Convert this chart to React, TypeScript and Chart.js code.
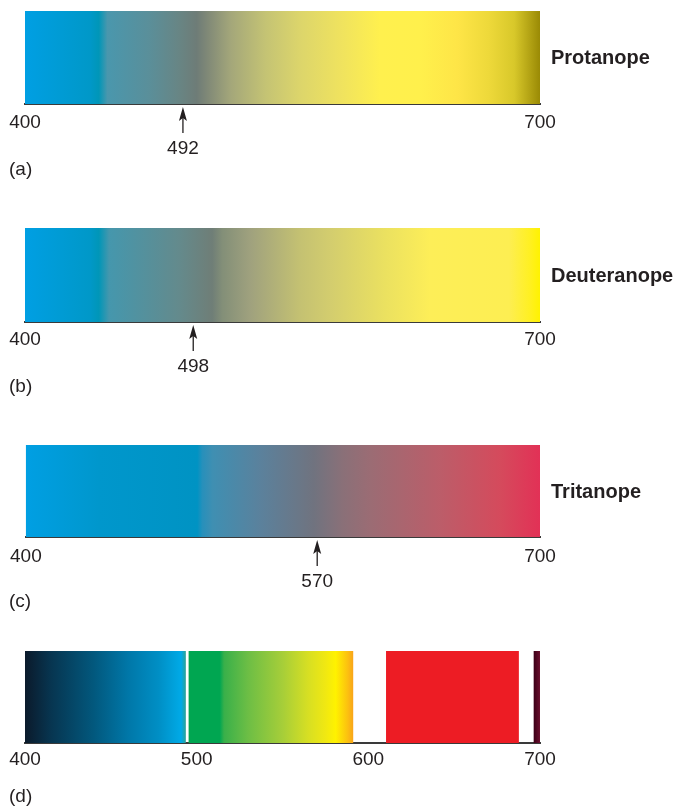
import React, { useEffect, useRef } from 'react';
import { Chart, registerables } from 'chart.js';

Chart.register(...registerables);

// ---------- data ----------
const AXIS_MIN = 400;
const AXIS_MAX = 700;
const TICKS_ABC = [400, 700];
const TICKS_D = [400, 500, 600, 700];

const PANEL_LETTERS = ['(a)', '(b)', '(c)', '(d)'];
const DEFECT_NAMES = ['Protanope', 'Deuteranope', 'Tritanope'];
const NEUTRAL_POINTS = [492, 498, 570];

// Perceived spectrum, wavelength (nm) -> colour
const PROT_WL = [400, 438, 443, 448, 472, 490, 500, 506, 520, 540, 560, 585, 607, 630, 652, 670, 685, 700];
const PROT_COL = ['#009fe3', '#0098c8', '#0096b8', '#4a97ad', '#5a8f9a', '#688584', '#6e7c77', '#7f8877', '#a4a77a', '#c4c374', '#dcd56b', '#f0e35e', '#fff04e', '#fff04c', '#fee547', '#eed93a', '#d8c82a', '#9a8a05'];

const DEUT_WL = [400, 438, 443, 449, 490, 509, 515, 531, 560, 578, 610, 636, 682, 694, 700];
const DEUT_COL = ['#009fe3', '#0098c8', '#0096b8', '#4597ad', '#648a8c', '#6f7e77', '#838f78', '#9fa17e', '#c4c172', '#d3cd6e', '#ebe160', '#fdee58', '#fdee52', '#fff022', '#fff200'];

const TRIT_WL = [400, 443, 500, 503, 509, 537, 568, 585, 601, 642, 677, 700];
const TRIT_COL = ['#009fe3', '#0097cc', '#0093c3', '#2790bb', '#3f8fb2', '#5b819c', '#70737f', '#8a7078', '#9b6c74', '#bc5d69', '#d54a5c', '#e23156'];

// Normal spectrum bands (panel d)
const D_START = [400, 495.5, 610.5, 696.5];
const D_END = [493.5, 591, 687.5, 700];
const D_BLUE_WL = [400, 415, 440, 460, 478, 488, 491, 493.5];
const D_BLUE_COL = ['#0b1a2b', '#073550', '#02587d', '#0077a8', '#008fc5', '#00a4df', '#00aae8', '#2aa39a'];
const D_GREEN_WL = [495.5, 513.5, 516, 530, 550, 565, 575, 581, 588, 591];
const D_GREEN_COL = ['#00a651', '#00a651', '#39b04a', '#6dbe45', '#a6ce39', '#d7df23', '#f0e812', '#fff200', '#fcc010', '#f9a61a'];
const D_RED_COL = '#ed1c24';
const D_PURPLE_WL = [696.5, 700];
const D_PURPLE_COL = ['#3d0017', '#6b0f2e'];

// ---------- layout (styles) ----------
const FONT = '"Liberation Sans", Arial, Helvetica, sans-serif';
const TEXT = '#231f20';
const AXIS_BOX = 30;
const PAD_LEFT = 25;
const PAD_RIGHT = 142;
const LAYOUT = [
  { top: 0, height: 200, areaTop: 11, areaBottom: 104, tickPad: 9, letterDy: 66 },
  { top: 200, height: 220, areaTop: 28, areaBottom: 122, tickPad: 8, letterDy: 65 },
  { top: 420, height: 210, areaTop: 25, areaBottom: 117, tickPad: 10, letterDy: 65 },
  { top: 630, height: 181, areaTop: 21, areaBottom: 113, tickPad: 7, letterDy: 54 },
];

function gradientFor(wl: number[], cols: string[]) {
  return (c: any) => {
    const chart = c.chart;
    const x = chart.scales && chart.scales.x;
    if (!chart.chartArea || !x) return cols[0];
    const x0 = x.getPixelForValue(AXIS_MIN);
    const x1 = x.getPixelForValue(AXIS_MAX);
    const g = chart.ctx.createLinearGradient(x0, 0, x1, 0);
    wl.forEach((w, i) => g.addColorStop((w - AXIS_MIN) / (AXIS_MAX - AXIS_MIN), cols[i]));
    return g;
  };
}

function band(start: number, end: number, color: any) {
  return {
    data: [[start, end]],
    backgroundColor: color,
    borderWidth: 0,
    barPercentage: 1,
    categoryPercentage: 1,
    grouped: false,
  };
}

type PanelProps = {
  idx: number;
  datasets: any[];
  ticks: number[];
  name?: string;
  neutral?: number;
};

function Panel({ idx, datasets, ticks, name, neutral }: PanelProps) {
  const ref = useRef<HTMLCanvasElement>(null);
  const lay = LAYOUT[idx];
  useEffect(() => {
    if (!ref.current) return;
    const annot = {
      id: 'annot' + idx,
      afterDraw(chart: any) {
        const { ctx, chartArea, scales } = chart;
        const x = scales.x;
        const axisY = chartArea.bottom;
        ctx.save();
        ctx.fillStyle = TEXT;
        ctx.strokeStyle = TEXT;
        if (neutral !== undefined) {
          const px = x.getPixelForValue(neutral);
          ctx.lineWidth = 1.3;
          ctx.beginPath();
          ctx.moveTo(px, axisY + 12);
          ctx.lineTo(px, axisY + 29);
          ctx.stroke();
          ctx.beginPath();
          ctx.moveTo(px, axisY + 3);
          ctx.lineTo(px + 4, axisY + 17);
          ctx.lineTo(px, axisY + 14);
          ctx.lineTo(px - 4, axisY + 17);
          ctx.closePath();
          ctx.fill();
          ctx.font = '19px ' + FONT;
          ctx.textAlign = 'center';
          ctx.textBaseline = 'middle';
          ctx.fillText(String(neutral), px, axisY + 45);
        }
        if (name) {
          ctx.font = 'bold 20px ' + FONT;
          ctx.textAlign = 'left';
          ctx.textBaseline = 'middle';
          ctx.fillText(name, chartArea.right + 11, (chartArea.top + chartArea.bottom) / 2 + 1);
        }
        ctx.font = '19px ' + FONT;
        ctx.textAlign = 'left';
        ctx.textBaseline = 'middle';
        ctx.fillText(PANEL_LETTERS[idx], 9, axisY + lay.letterDy);
        ctx.restore();
      },
    };
    const chart = new Chart(ref.current, {
      type: 'bar',
      data: { labels: ['band'], datasets },
      options: {
        animation: false,
        responsive: false,
        maintainAspectRatio: false,
        indexAxis: 'y',
        layout: {
          padding: {
            top: lay.areaTop,
            bottom: lay.height - lay.areaBottom - AXIS_BOX,
            left: PAD_LEFT,
            right: PAD_RIGHT,
          },
        },
        plugins: { legend: { display: false }, tooltip: { enabled: false } },
        scales: {
          x: {
            type: 'linear',
            position: 'bottom',
            min: AXIS_MIN,
            max: AXIS_MAX,
            grid: { display: false, drawTicks: false },
            border: { display: true, color: '#3a3a3a', width: 2 },
            ticks: {
              padding: lay.tickPad,
              color: TEXT,
              font: { family: FONT, size: 19, lineHeight: 1 },
              maxRotation: 0,
              autoSkip: false,
            },
            afterBuildTicks: (s: any) => {
              s.ticks = ticks.map((v) => ({ value: v }));
            },
            afterFit: (s: any) => {
              s.height = AXIS_BOX;
            },
          },
          y: { type: 'category', display: false, offset: true },
        },
      } as any,
      plugins: [annot],
    });
    return () => chart.destroy();
  }, []);
  return (
    <canvas
      ref={ref}
      width={682}
      height={lay.height}
      style={{ position: 'absolute', left: 0, top: lay.top, width: 682, height: lay.height }}
    />
  );
}

export default function App() {
  return (
    <div style={{ position: 'absolute', left: 0, top: 0, width: 682, height: 811, background: '#ffffff' }}>
      <Panel
        idx={0}
        datasets={[band(AXIS_MIN, AXIS_MAX, gradientFor(PROT_WL, PROT_COL))]}
        ticks={TICKS_ABC}
        name={DEFECT_NAMES[0]}
        neutral={NEUTRAL_POINTS[0]}
      />
      <Panel
        idx={1}
        datasets={[band(AXIS_MIN, AXIS_MAX, gradientFor(DEUT_WL, DEUT_COL))]}
        ticks={TICKS_ABC}
        name={DEFECT_NAMES[1]}
        neutral={NEUTRAL_POINTS[1]}
      />
      <Panel
        idx={2}
        datasets={[band(AXIS_MIN, AXIS_MAX, gradientFor(TRIT_WL, TRIT_COL))]}
        ticks={TICKS_ABC}
        name={DEFECT_NAMES[2]}
        neutral={NEUTRAL_POINTS[2]}
      />
      <Panel
        idx={3}
        datasets={[
          band(D_START[0], D_END[0], gradientFor(D_BLUE_WL, D_BLUE_COL)),
          band(D_START[1], D_END[1], gradientFor(D_GREEN_WL, D_GREEN_COL)),
          band(D_START[2], D_END[2], D_RED_COL),
          band(D_START[3], D_END[3], gradientFor(D_PURPLE_WL, D_PURPLE_COL)),
        ]}
        ticks={TICKS_D}
      />
    </div>
  );
}
